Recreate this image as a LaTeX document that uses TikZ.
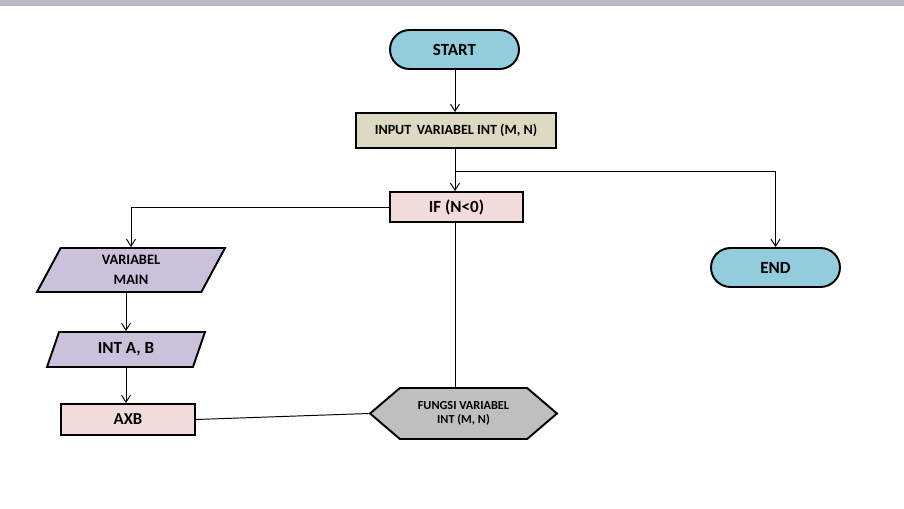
\documentclass[tikz,border=0pt]{standalone}
\usepackage{fontspec}
\setmainfont{Carlito}
\usepackage{tikz}
\usetikzlibrary{arrows.meta,positioning,shapes.geometric,shapes.symbols}
\definecolor{termblue}{RGB}{147,205,221}
\definecolor{inputtan}{RGB}{221,217,195}
\definecolor{procpink}{RGB}{242,220,219}
\definecolor{iolilac}{RGB}{204,193,218}
\definecolor{prepgray}{RGB}{191,191,191}
\definecolor{barpaper}{RGB}{184,188,194}

\begin{document}
\begin{tikzpicture}[
    x=0.02cm, y=-0.02cm,
    every node/.style={font=\bfseries, inner sep=0pt, align=center},
    term/.style={rectangle, draw, line width=1.1pt, fill=termblue, minimum width=2.58cm, minimum height=0.78cm, rounded corners=0.39cm, font=\bfseries\fontsize{9.7}{11}\selectfont},
    box/.style={rectangle, draw, line width=1.1pt, fill=procpink, font=\bfseries\fontsize{9.5}{11}\selectfont},
    io/.style={trapezium, trapezium stretches body, draw, line width=1.1pt, fill=iolilac},
    prep/.style={signal, signal to=west and east, draw, line width=1.1pt, fill=prepgray, minimum width=3.74cm, minimum height=1.02cm, signal pointer angle=81, font=\bfseries\fontsize{7}{7.6}\selectfont},
    arrow/.style={-{Straight Barb[length=1.4mm, width=1.8mm]}, line width=0.55pt},
    link/.style={line width=0.55pt}
]
\useasboundingbox (0,0) rectangle (904,508);
\fill[barpaper] (0,0) rectangle (904,6);

\node[term] (start) at (454.5,49.5) {START};
\node[box, fill=inputtan, minimum width=4.0cm, minimum height=0.70cm, font=\bfseries\fontsize{8}{10}\selectfont] (input) at (456,130.5) {INPUT\, VARIABEL INT (M, N)};
\node[box, minimum width=2.66cm, minimum height=0.60cm, font=\bfseries\fontsize{9.7}{11}\selectfont] (cond) at (456.5,207) {IF (N<0)};
\node[term] (stop) at (775.5,267.5) {END};

\node[io, trapezium left angle=51, trapezium right angle=129, minimum width=3.76cm, minimum height=0.88cm, font=\bfseries\fontsize{8.2}{11.3}\selectfont] (varmain) at (131,270) {VARIABEL\\MAIN};
\node[io, trapezium left angle=48, trapezium right angle=132, minimum width=3.16cm, minimum height=0.70cm, font=\bfseries\fontsize{9.7}{11}\selectfont] (intab) at (126,349.5) {INT A, B};
\node[box, minimum width=2.68cm, minimum height=0.62cm] (axb) at (128,419.5) {AXB};
\node[prep] (fungsi) at (463.5,413.5) {FUNGSI VARIABEL\\INT (M, N)};

\coordinate (split) at (455,171);

\draw[arrow] (split |- start.south) -- (split |- input.north);
\draw[arrow] (split |- input.south) -- (split |- cond.north);
\draw[arrow] (split) -| (stop);
\draw[arrow] (cond.west) -| (varmain);
\draw[arrow] (varmain.south -| intab.north) -- (intab.north);
\draw[arrow] (intab.south) -- (intab.south |- axb.north);
\draw[link] (split |- cond.south) -- (split |- fungsi.north);
\draw[link] (axb.east) -- (fungsi.west);
\end{tikzpicture}
\end{document}
